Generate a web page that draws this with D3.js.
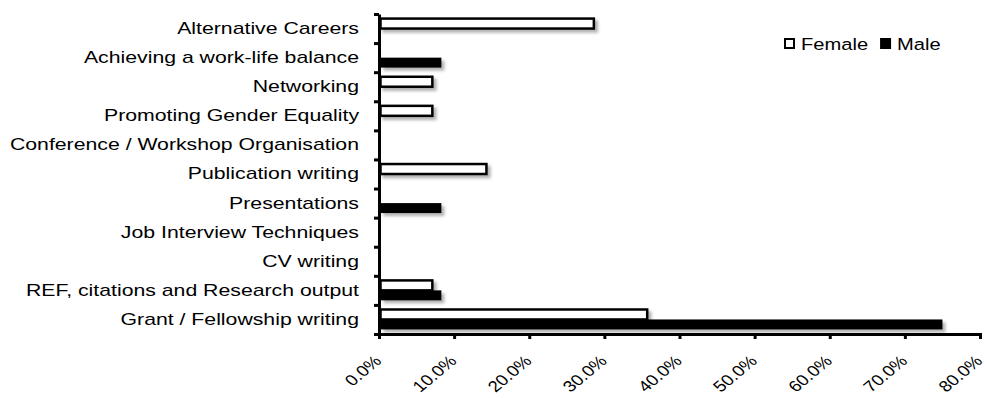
<!DOCTYPE html>
<html>
<head>
<meta charset="utf-8">
<script src="https://cdn.jsdelivr.net/npm/d3@7"></script>
<style>
body { margin: 0; background: #fff; }
svg text { font-family: "Liberation Sans", Arial, sans-serif; fill: #000; }
</style>
</head>
<body>
<svg></svg>
<script>
// categories, top to bottom
var categories = [
  "Alternative Careers",
  "Achieving a work-life balance",
  "Networking",
  "Promoting Gender Equality",
  "Conference / Workshop Organisation",
  "Publication writing",
  "Presentations",
  "Job Interview Techniques",
  "CV writing",
  "REF, citations and Research output",
  "Grant / Fellowship writing"
];
var seriesNames = ["Female", "Male"];
var femaleValues = [28.6, 0, 7.1, 7.1, 0, 14.3, 0, 0, 0, 7.1, 35.7];
var maleValues = [0, 8.3, 0, 0, 0, 0, 8.3, 0, 0, 8.3, 75.0];
var xTicks = [0, 10, 20, 30, 40, 50, 60, 70, 80];

var svgWidth = 987, svgHeight = 398;
var margin = { top: 14, left: 379 };
var width = 601, height = 320;
var stretch = 1.25; // text in the original is wider than tall

var svg = d3.select("svg")
  .attr("width", svgWidth)
  .attr("height", svgHeight);

var defs = svg.append("defs");
defs.append("filter")
  .attr("id", "shadow")
  .attr("x", "-10%").attr("y", "-50%")
  .attr("width", "130%").attr("height", "250%")
  .append("feDropShadow")
  .attr("dx", 3).attr("dy", 3)
  .attr("stdDeviation", 1.8)
  .attr("flood-color", "#000")
  .attr("flood-opacity", 0.3);

var g = svg.append("g")
  .attr("transform", "translate(" + margin.left + "," + margin.top + ")");

var x = d3.scaleLinear().domain([0, 80]).range([0, width]);
var y = d3.scaleBand().domain(categories).range([0, height]);
var ySeries = d3.scaleBand().domain(seriesNames)
  .range([0, y.bandwidth()])
  .paddingOuter(0.46);

var rows = categories.map(function(c, i) {
  return { cat: c, Female: femaleValues[i], Male: maleValues[i] };
});

// bars
var bars = [];
rows.forEach(function(r) {
  seriesNames.forEach(function(s) {
    if (r[s] > 0) bars.push({ cat: r.cat, series: s, value: r[s] });
  });
});

g.append("g")
  .attr("filter", "url(#shadow)")
  .selectAll("rect")
  .data(bars)
  .enter().append("rect")
  .attr("x", 1.5)
  .attr("y", function(d) { return y(d.cat) + ySeries(d.series); })
  .attr("width", function(d) { return x(d.value) - 1.5; })
  .attr("height", ySeries.bandwidth())
  .attr("fill", function(d) { return d.series == "Female" ? "#fff" : "#000"; })
  .attr("stroke", "#000")
  .attr("stroke-width", function(d) { return d.series == "Female" ? 2.5 : 0; });

// x axis
var xAxis = g.append("g")
  .attr("transform", "translate(0," + height + ")")
  .call(d3.axisBottom(x)
    .tickValues(xTicks)
    .tickSize(5)
    .tickFormat(function(d) { return d.toFixed(1) + "%"; }));
xAxis.select(".domain").attr("stroke-width", 3);
xAxis.selectAll(".tick line").attr("stroke-width", 3);
xAxis.selectAll(".tick text")
  .attr("x", 0).attr("y", 0).attr("dy", 0)
  .attr("text-anchor", "end")
  .attr("font-size", "15.5px")
  .attr("transform", "translate(3,28) scale(1.2,1) rotate(-45)");

// y axis labels
var yAxis = g.append("g")
  .call(d3.axisLeft(y).tickSize(0).tickSizeOuter(0).tickPadding(0));
yAxis.select(".domain").remove();
yAxis.selectAll(".tick text")
  .attr("x", 0)
  .attr("font-size", "17px")
  .attr("transform", "translate(-20,0) scale(" + stretch + ",1)");

// y axis line with ticks between categories
var yLin = d3.scaleLinear().domain([0, categories.length]).range([0, height]);
var yTicks = g.append("g")
  .call(d3.axisLeft(yLin)
    .tickValues(d3.range(categories.length + 1))
    .tickSize(5)
    .tickSizeOuter(0)
    .tickFormat(""));
yTicks.select(".domain").attr("stroke-width", 3);
yTicks.selectAll(".tick line").attr("stroke-width", 3);

// legend
var legend = svg.append("g").attr("transform", "translate(784,38)");
var lx = 0;
seriesNames.forEach(function(s) {
  var item = legend.append("g").attr("transform", "translate(" + lx + ",0)");
  item.append("rect")
    .attr("x", 1).attr("y", 1)
    .attr("width", 9).attr("height", 9)
    .attr("fill", s == "Female" ? "#fff" : "#000")
    .attr("stroke", "#000")
    .attr("stroke-width", 2);
  var t = item.append("text")
    .attr("font-size", "16.5px")
    .attr("dy", "0.35em")
    .attr("transform", "translate(17,6) scale(" + (stretch - 0.03) + ",1)")
    .text(s);
  lx += 17 + t.node().getComputedTextLength() * (stretch - 0.03) + 12;
});
</script>
</body>
</html>
